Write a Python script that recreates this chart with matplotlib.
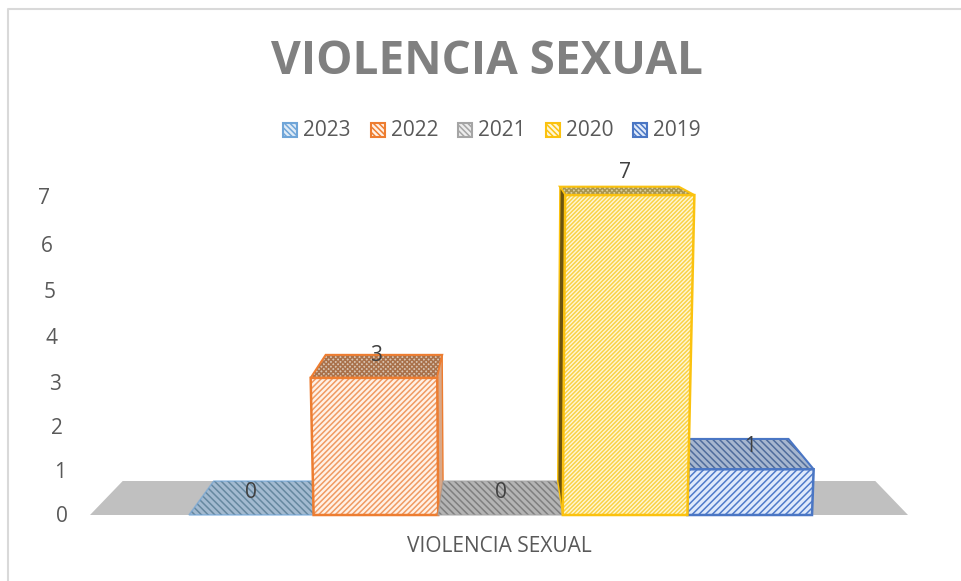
import matplotlib
matplotlib.use('Agg')
import matplotlib.pyplot as plt
from matplotlib.patches import Polygon

years = ['2023', '2022', '2021', '2020', '2019']
values = [0, 3, 0, 7, 1]
line_colors = ['#6fa5d8', '#ed7d31', '#a5a5a5', '#fbc20f', '#4a76c4']
front_colors = ['#deebf7', '#fff1e6', '#ededed', '#fff7d6', '#dfeafb']
front_hatch = ['#5b9bd5', '#f09a62', '#a5a5a5', '#f9d247', '#4f7bca']
front_dens = ['//////', '//////', '//////', '////////', '/////']
top_colors = ['#a3bad0', '#d8c4b2', '#b4b4b4', '#dccf9c', '#a6b6cf']
top_hatch = ['#66889f', '#a9714a', '#7f7f7f', '#a8954f', '#4f6c9c']
side_colors = ['#41719c', '#d9a888', '#7b7b7b', '#6b5410', '#2f5597']
y_ticks = [0, 1, 2, 3, 4, 5, 6, 7]
y_tick_py = [517, 473, 429, 384, 338, 292, 246, 199]
y_tick_px = [62, 60, 57, 55, 52, 50, 47, 44]

plt.rcParams['font.family'] = ['Open Sans', 'DejaVu Sans']
plt.rcParams['hatch.linewidth'] = 1.1

W, H = 961, 581
bar_w = 124.6   # px per category
unit = 45.7     # px per value
x0, y0 = 189, 515
depth = 34 / unit
shrink = 0.92
lean = 0.0053
center = (499 - x0) / bar_w

fig = plt.figure(figsize=(W / 100, H / 100), dpi=100)
ax = fig.add_axes([0, 0, 1, 1])
ax.set_xlim(-x0 / bar_w, (W - x0) / bar_w)
ax.set_ylim((y0 - H) / unit, y0 / unit)
ax.axis('off')


# front plane, bars get a bit wider going up
def front(x, v):
    return center + (x - center) * (1 + lean * v), v


# back plane of the 3d box
def back(x, v):
    fx, fv = front(x, v)
    return center + (fx - center) * shrink, depth + fv * shrink


def px(x, y):
    return (x - x0) / bar_w, (y0 - y) / unit


# chart frame
ax.plot(*zip(px(8, 581), px(8, 9), px(961, 9)), color='#d9d9d9', lw=1.5)

# floor
fl, fr = px(90, 515)[0], px(908, 515)[0]
ax.add_patch(Polygon([(fl, 0), (fr, 0), back(fr, 0), back(fl, 0)],
                     fc='#c0c0c0', ec='none', zorder=1))

order = [0, 1, 2, 4, 3]
for i in order:
    v = values[i]
    l, r = i, i + 1
    z = 2 + order.index(i)
    # top
    hatch = 'xxxxxxx' if v == 3 or v == 7 else '\\\\\\\\\\'
    top = [front(l, v), front(r, v), back(r, v), back(l, v)]
    ax.add_patch(Polygon(top, fc=top_colors[i], ec=top_hatch[i], hatch=hatch, lw=0, zorder=z))
    if v > 0:
        ax.add_patch(Polygon(top, fc='none', ec=line_colors[i], lw=1.5, zorder=z))
        # the side that faces the centre of the chart
        if r < center:
            side = [(r, 0), front(r, v), back(r, v), back(r, 0)]
        elif l > center:
            side = [(l, 0), front(l, v), back(l, v), back(l, 0)]
        else:
            side = None
        if side:
            ax.add_patch(Polygon(side, fc=side_colors[i], ec=line_colors[i], lw=1.0, zorder=z))
        face = [(l, 0), (r, 0), front(r, v), front(l, v)]
        ax.add_patch(Polygon(face, fc=front_colors[i], ec=front_hatch[i], hatch=front_dens[i],
                             lw=0, zorder=z))
        ax.add_patch(Polygon(face, fc='none', ec=line_colors[i], lw=1.8, zorder=z))
    else:
        ax.add_patch(Polygon(top, fc='none', ec=line_colors[i], lw=1.2, alpha=0.6, zorder=z))

# value labels
for i, v in enumerate(values):
    ax.text(i + 0.5, v + 22.5 / unit, str(v), fontsize=15, color='#404040',
            ha='center', va='center', zorder=20)

for t, p, q in zip(y_ticks, y_tick_px, y_tick_py):
    ax.text(*px(p, q), str(t), fontsize=15, color='#595959', ha='center', va='center')

ax.text(*px(499, 547), 'VIOLENCIA SEXUAL', fontsize=15, color='#595959', ha='center', va='center')
ax.text(*px(487, 61), 'VIOLENCIA SEXUAL', fontsize=33, fontweight='bold', color='#808080',
        ha='center', va='center')

# legend
legend_sw = [283, 371, 458, 546, 633]
for i, lx in enumerate(legend_sw):
    x, y = px(lx, 137)
    sw = [(x, y), (x + 14 / bar_w, y), (x + 14 / bar_w, y + 14 / unit), (x, y + 14 / unit)]
    ax.add_patch(Polygon(sw, fc=front_colors[i], ec=line_colors[i], hatch='\\\\\\\\\\\\', lw=1.5))
    ax.text(*px(lx + 20, 131), years[i], fontsize=15, color='#595959', ha='left', va='center')

fig.savefig('out.png', dpi=100)
